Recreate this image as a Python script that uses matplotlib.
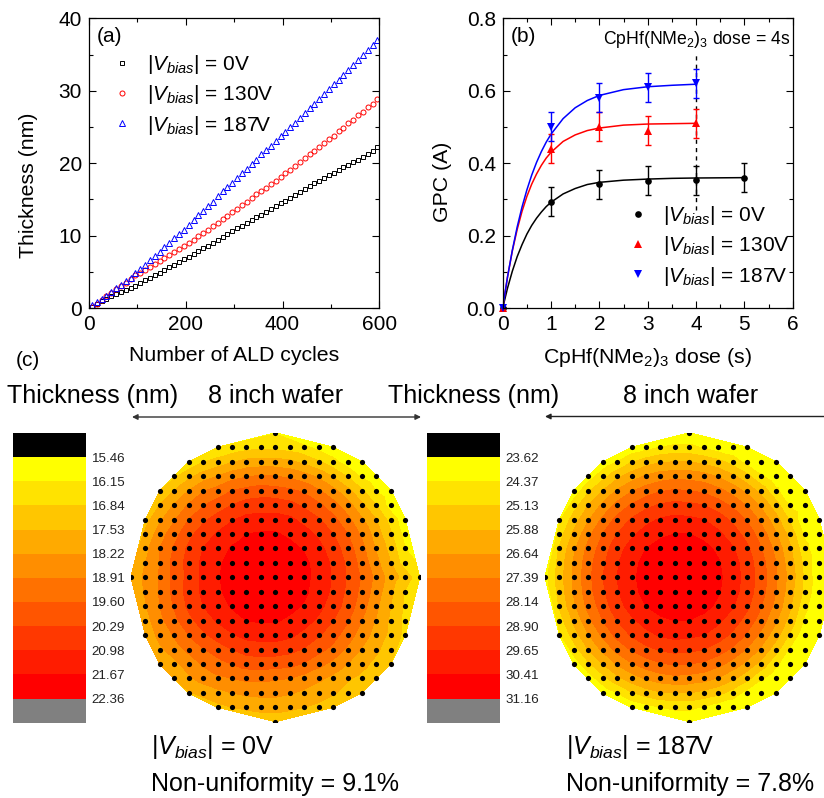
import numpy as np
import matplotlib
matplotlib.use('Agg')
import matplotlib.pyplot as plt
from matplotlib.colors import ListedColormap, BoundaryNorm
from matplotlib.patches import FancyArrowPatch
from matplotlib.ticker import MultipleLocator

plt.rcParams['font.family'] = ['Liberation Sans', 'DejaVu Sans']
plt.rcParams['mathtext.fontset'] = 'custom'
plt.rcParams['mathtext.rm'] = 'Liberation Sans'
plt.rcParams['mathtext.it'] = 'Liberation Sans:italic'
plt.rcParams['mathtext.bf'] = 'Liberation Sans:bold'

W, H = 824, 798

############################################
# panel (a), thickness against cycles
cycles = np.arange(6, 600, 10)
thick_0v = [.2,.6,.9,1.3,1.6,1.9,2.2,2.5,2.8,3.1,3.4,3.8,4.1,4.5,4.9,5.2,5.6,6.0,6.4,6.7,
            7.1,7.5,7.9,8.3,8.6,9.0,9.4,9.8,10.2,10.6,11.0,11.3,11.7,12.1,12.5,12.9,13.3,13.7,14.1,14.5,
            14.8,15.2,15.6,16.0,16.4,16.8,17.2,17.6,17.9,18.3,18.7,19.1,19.5,19.8,20.2,20.5,20.9,21.3,21.7,22.2]
thick_130v = [.2,.6,1.1,1.6,2.1,2.6,3.0,3.5,4.0,4.5,4.9,5.3,5.7,6.1,6.5,6.9,7.3,7.7,8.1,8.5,
              9.0,9.4,9.9,10.4,10.8,11.3,11.8,12.3,12.7,13.2,13.7,14.2,14.7,15.2,15.7,16.1,16.6,17.1,17.6,18.1,
              18.6,19.1,19.6,20.1,20.7,21.2,21.7,22.2,22.8,23.3,23.8,24.4,24.9,25.5,26.0,26.6,27.1,27.7,28.2,28.8]
thick_187v = [.4,.8,1.2,1.7,2.2,2.7,3.2,3.7,4.2,4.8,5.4,6.0,6.6,7.2,7.8,8.4,9.0,9.6,10.2,10.8,
              11.5,12.1,12.8,13.4,14.1,14.7,15.4,16.1,16.7,17.3,18.0,18.6,19.2,19.9,20.5,21.2,21.8,22.4,23.1,23.7,
              24.3,25.0,25.6,26.3,26.9,27.6,28.2,28.9,29.5,30.2,30.9,31.5,32.2,32.9,33.5,34.2,34.9,35.6,36.3,37.0]

# panel (b), GPC against dose
dose_0v = [0, 1, 2, 3, 4, 5]
gpc_0v = [0, .293, .342, .352, .353, .36]
err_0v = [0, .04, .04, .04, .04, .04]
dose_130v = [0, 1, 2, 3, 4]
gpc_130v = [0, .44, .50, .49, .51]
err_130v = [0, .04, .04, .04, .04]
dose_187v = [0, 1, 2, 3, 4]
gpc_187v = [0, .50, .58, .61, .62]
err_187v = [0, .04, .04, .04, .04]

fit_x = [0,.1,.2,.3,.4,.5,.6,.7,.8,.9,1,1.25,1.5,1.75,2,2.5,3,3.5,4,5]
fit_0v = [0,.055,.102,.142,.175,.204,.228,.248,.265,.280,.292,.315,.330,.341,.347,.353,.356,.358,.359,.360]
fit_x_short = fit_x[:-1]
fit_130v = [0,.086,.158,.217,.267,.308,.342,.370,.394,.414,.430,.460,.478,.490,.497,.505,.508,.509,.510]
fit_187v = [0,.086,.160,.224,.279,.326,.367,.402,.432,.458,.480,.523,.553,.573,.587,.603,.611,.615,.618]

dash_x = [4, 4]
dash_y = [.27, .70]

# panel (c), colour scale ticks and colours
ticks_0v = ['15.46','16.15','16.84','17.53','18.22','18.91','19.60','20.29','20.98','21.67','22.36']
ticks_187v = ['23.62','24.37','25.13','25.88','26.64','27.39','28.14','28.90','29.65','30.41','31.16']
band_colors = ['#FFFF00','#FFE300','#FFC600','#FFAA00','#FF8E00','#FF7100','#FF5500','#FF3800','#FF1C00','#FF0000']
under_color = '#000000'
over_color = '#808080'

# wafer maps, position on the colour scale (0 = first tick, 10 = last tick)
# one list per grid row, top to bottom, each centred on the wafer axis
wafer_0v = [
    [.9],
    [1.0,1.3,1.6,1.8,1.7,1.5,1.2,.7,.3],
    [1.2,1.9,2.4,2.9,3.3,3.4,3.4,3.2,2.7,2.1,1.3,.5,.2],
    [1.8,2.7,3.5,4.0,4.6,4.9,5.1,5.0,4.8,4.4,3.8,2.9,1.9,.8,.2],
    [2.0,3.0,4.0,4.9,5.4,6.0,6.3,6.5,6.4,6.2,5.8,5.1,4.3,3.3,2.1,.9,.2],
    [3.0,4.1,5.1,5.9,6.5,7.0,7.4,7.5,7.5,7.3,6.8,6.2,5.4,4.4,3.2,2.0,.5],
    [2.6,3.8,4.9,6.0,6.8,7.4,7.9,8.3,8.4,8.4,8.2,7.7,7.1,6.3,5.3,4.1,3.0,1.6,.3],
    [3.2,4.5,5.6,6.7,7.5,8.1,8.6,9.0,9.1,9.1,8.8,8.4,7.8,7.0,6.0,4.8,3.5,2.1,.6],
    [3.7,5.0,6.1,7.2,8.0,8.5,9.1,9.4,9.6,9.6,9.3,8.9,8.3,7.5,6.5,5.3,3.9,2.6,1.0],
    [4.0,5.0,6.3,7.4,8.2,8.8,9.4,9.7,9.9,9.9,9.6,9.2,8.6,7.8,6.8,5.6,4.3,3.0,1.4],
    [3.3,4.2,5.1,6.3,7.3,8.2,8.9,9.5,9.8,10.0,10.0,9.7,9.3,8.6,7.9,6.9,5.9,4.7,3.5,2.6,1.3],
    [4.1,5.1,6.3,7.4,8.2,8.8,9.4,9.7,9.9,9.9,9.6,9.2,8.6,7.8,6.8,5.7,4.5,3.2,1.9],
    [3.9,5.0,6.1,7.2,8.0,8.5,9.1,9.4,9.6,9.6,9.3,8.9,8.3,7.5,6.6,5.4,4.2,3.0,1.8],
    [3.6,4.7,5.7,6.7,7.5,8.1,8.6,9.0,9.1,9.1,8.8,8.4,7.8,7.0,6.1,5.0,3.9,2.8,1.7],
    [3.3,4.3,5.1,6.0,6.8,7.4,7.9,8.3,8.4,8.4,8.2,7.7,7.1,6.4,5.5,4.5,3.6,2.7,1.7],
    [3.8,4.5,5.2,5.9,6.5,7.0,7.4,7.5,7.5,7.3,6.9,6.3,5.7,4.8,3.9,3.2,2.4],
    [3.0,3.7,4.5,5.1,5.6,6.0,6.4,6.5,6.4,6.3,5.9,5.3,4.7,4.0,3.3,2.7,2.0],
    [3.0,3.8,4.4,4.8,5.0,5.2,5.2,5.1,5.0,4.6,4.2,3.7,3.1,2.7,2.3],
    [2.9,3.3,3.7,4.0,4.2,4.3,4.3,4.1,3.8,3.4,3.1,2.7,2.1],
    [2.7,3.0,3.2,3.3,3.3,3.2,3.0,2.8,2.5],
    [2.5],
]

wafer_187v = [
    [.3],
    [.2,.6,1.0,1.2,1.2,.9,.4,.2,.2],
    [.2,1.0,1.9,2.5,2.9,3.0,3.0,2.7,2.3,1.6,.6,.2,.2],
    [.4,1.6,2.7,3.5,4.1,4.5,4.7,4.6,4.4,3.9,3.2,2.3,1.1,.2,.2],
    [.3,1.8,3.0,4.1,4.9,5.5,5.9,6.1,6.0,5.8,5.3,4.6,3.7,2.6,1.2,.2,.2],
    [1.5,3.0,4.2,5.3,6.1,6.7,7.1,7.3,7.2,7.0,6.5,5.8,4.9,3.8,2.4,.8,.2],
    [.8,2.5,3.9,5.2,6.3,7.1,7.7,8.1,8.3,8.2,8.0,7.5,6.8,5.9,4.7,3.4,1.8,.2,.2],
    [1.5,3.2,4.7,6.0,7.0,7.8,8.4,8.8,9.0,9.0,8.7,8.2,7.5,6.6,5.5,4.1,2.6,.8,.2],
    [2.1,3.8,5.3,6.5,7.6,8.4,9.0,9.4,9.6,9.5,9.3,8.8,8.1,7.2,6.0,4.7,3.1,1.3,.2],
    [2.4,4.1,5.6,6.8,7.9,8.7,9.3,9.7,9.9,9.8,9.6,9.1,8.4,7.5,6.4,5.0,3.4,1.7,.2],
    [.6,2.5,4.2,5.7,7.0,8.0,8.8,9.4,9.8,10.0,10.0,9.7,9.2,8.5,7.6,6.5,5.1,3.6,1.8,.2,.2],
    [2.4,4.1,5.6,6.8,7.9,8.7,9.3,9.7,9.9,9.8,9.6,9.1,8.4,7.5,6.4,5.0,3.4,1.7,.2],
    [2.1,3.8,5.3,6.5,7.6,8.4,9.0,9.4,9.6,9.5,9.3,8.8,8.1,7.2,6.0,4.7,3.1,1.3,.2],
    [1.5,3.2,4.7,6.0,7.0,7.8,8.4,8.8,9.0,9.0,8.7,8.2,7.5,6.6,5.5,4.1,2.6,.8,.2],
    [.8,2.5,3.9,5.2,6.3,7.1,7.7,8.1,8.3,8.2,8.0,7.5,6.8,5.9,4.7,3.4,1.8,.2,.2],
    [1.5,3.0,4.2,5.3,6.1,6.7,7.1,7.3,7.2,7.0,6.5,5.8,4.9,3.8,2.4,.8,.2],
    [.3,1.8,3.0,4.1,4.9,5.5,5.9,6.1,6.0,5.8,5.3,4.6,3.7,2.6,1.2,.2,.2],
    [.4,1.6,2.7,3.5,4.1,4.5,4.7,4.6,4.4,3.9,3.2,2.3,1.1,.2,.2],
    [.2,1.0,1.9,2.5,2.9,3.0,3.0,2.7,2.3,1.6,.6,.2,.2],
    [.2,.6,1.0,1.2,1.2,.9,.4,.2,.2],
    [.3],
]

############################################
def axes_px(left, top, right, bottom):
    return fig.add_axes([left / W, 1 - bottom / H, (right - left) / W, (bottom - top) / H])

def text_px(x, y, s, **kw):
    kw.setdefault('va', 'center')
    fig.text(x / W, 1 - y / H, s, **kw)

def style_axes(ax):
    ax.tick_params(which='both', direction='in', top=True, right=True, labelsize=15, pad=5, width=.8)
    ax.tick_params(which='major', length=5)
    ax.tick_params(which='minor', length=3)
    for sp in ax.spines.values():
        sp.set_linewidth(.9)

def draw_scale(left, right, labels):
    ax = axes_px(left, 433, right, 722.7)
    colors = [under_color] + band_colors + [over_color]
    ax.barh(np.arange(12) + .5, 1, height=1, color=colors)
    ax.set_xlim(0, 1)
    ax.set_ylim(12, 0)
    ax.yaxis.tick_right()
    ax.set_yticks(np.arange(1, 12))
    ax.set_yticklabels(labels)
    ax.tick_params(axis='y', length=0, pad=4, labelsize=9.6, labelcolor='#222222')
    ax.set_xticks([])
    for sp in ax.spines.values():
        sp.set_visible(False)

def draw_wafer(cx, rows):
    ax = axes_px(cx - 144.4, 432.8, cx + 144.4, 721.8)
    xs, ys, zs = [], [], []
    for i, row in enumerate(rows):
        half = len(row) // 2
        for j, val in enumerate(row):
            xs.append(j - half)
            ys.append(i - 10)
            zs.append(val)
    cmap = ListedColormap(band_colors)
    cmap.set_under(under_color)
    cmap.set_over(over_color)
    levels = np.arange(0, 11)
    ax.tricontourf(xs, ys, zs, levels=levels, cmap=cmap, norm=BoundaryNorm(levels, 10), extend='both')
    ax.scatter(xs, ys, s=14, c='k', linewidths=0, zorder=3)
    ax.set_xlim(-10, 10)
    ax.set_ylim(10, -10)
    ax.axis('off')

fig = plt.figure(figsize=(W / 100, H / 100), dpi=100)

# (a)
ax1 = axes_px(89, 18.3, 379.3, 308)
ax1.plot(cycles, thick_0v, 's', mfc='none', mec='k', ms=3.2, mew=.7, label=r'$|V_{bias}|$ = 0V')
ax1.plot(cycles, thick_130v, 'o', mfc='none', mec='r', ms=3.6, mew=.7, label=r'$|V_{bias}|$ = 130V')
ax1.plot(cycles, thick_187v, '^', mfc='none', mec='b', ms=4.6, mew=.7, label=r'$|V_{bias}|$ = 187V')
ax1.set_xlim(0, 600)
ax1.set_ylim(0, 40)
ax1.xaxis.set_major_locator(MultipleLocator(200))
ax1.xaxis.set_minor_locator(MultipleLocator(100))
ax1.yaxis.set_major_locator(MultipleLocator(10))
ax1.yaxis.set_minor_locator(MultipleLocator(5))
style_axes(ax1)
ax1.set_xlabel('Number of ALD cycles', fontsize=15.3)
ax1.set_ylabel('Thickness (nm)', fontsize=15.3)
ax1.xaxis.set_label_coords(.5, -.13)
ax1.yaxis.set_label_coords(-.175, .425)
ax1.text(97, 36, '(a)', fontsize=15, va='center', transform=None) if False else None
ax1.legend(loc='upper left', bbox_to_anchor=((111.6 - 89) / 290.3, 1 - (53 - 18.3) / 289.7), frameon=False,
           fontsize=15, handlelength=1, handletextpad=.7, borderpad=0, borderaxespad=0, labelspacing=.35)

# (b)
ax2 = axes_px(502.7, 18.3, 792.7, 308)
ax2.plot(dash_x, dash_y, 'k--', lw=1, dashes=(3, 3))
ax2.plot(fit_x, fit_0v, 'k-', lw=1.1)
ax2.plot(fit_x_short, fit_130v, 'r-', lw=1.1)
ax2.plot(fit_x_short, fit_187v, 'b-', lw=1.1)
ax2.errorbar(dose_0v, gpc_0v, yerr=err_0v, fmt='none', ecolor='k', elinewidth=1, capsize=2.1, capthick=1)
ax2.errorbar(dose_130v, gpc_130v, yerr=err_130v, fmt='none', ecolor='r', elinewidth=1, capsize=2.1, capthick=1)
ax2.errorbar(dose_187v, gpc_187v, yerr=err_187v, fmt='none', ecolor='b', elinewidth=1, capsize=2.1, capthick=1)
ax2.plot(dose_0v, gpc_0v, 'ko', ms=4.8, mew=0, label=r'$|V_{bias}|$ = 0V')
ax2.plot(dose_130v, gpc_130v, 'r^', ms=5.6, mew=0, label=r'$|V_{bias}|$ = 130V')
ax2.plot(dose_187v, gpc_187v, 'bv', ms=5.6, mew=0, label=r'$|V_{bias}|$ = 187V')
for line in ax2.get_lines()[-3:]:
    line.set_clip_on(False)
ax2.set_xlim(0, 6)
ax2.set_ylim(0, .8)
ax2.xaxis.set_major_locator(MultipleLocator(1))
ax2.xaxis.set_minor_locator(MultipleLocator(.5))
ax2.yaxis.set_major_locator(MultipleLocator(.2))
ax2.yaxis.set_minor_locator(MultipleLocator(.1))
style_axes(ax2)
ax2.set_xlabel(r'CpHf(NMe$_2$)$_3$ dose (s)', fontsize=15.3)
ax2.set_ylabel('GPC (A)', fontsize=15.3)
ax2.xaxis.set_label_coords(.5, -.13)
ax2.yaxis.set_label_coords(-.175, .435)
ax2.legend(loc='upper left', bbox_to_anchor=((627.6 - 502.7) / 290, 1 - (204 - 18.3) / 289.7), frameon=False,
           fontsize=15, handlelength=1, handletextpad=.7, borderpad=0, borderaxespad=0, labelspacing=.35)

# (c)
draw_scale(13, 86, ticks_0v)
draw_scale(427, 500, ticks_187v)
draw_wafer(275.3, wafer_0v)
draw_wafer(689.3, wafer_187v)

text_px(97, 36, '(a)', fontsize=15)
text_px(511, 36, '(b)', fontsize=15)
text_px(16, 360, '(c)', fontsize=15)
text_px(602.7, 39, r'CpHf(NMe$_2$)$_3$ dose = 4s', fontsize=12.7)

text_px(7, 396, 'Thickness (nm)', fontsize=18)
text_px(208, 396, '8 inch wafer', fontsize=18)
text_px(388, 396, 'Thickness (nm)', fontsize=18)
text_px(623, 396, '8 inch wafer', fontsize=18)

arrow1 = FancyArrowPatch((132 / W, 1 - 417 / H), (421 / W, 1 - 417 / H), transform=fig.transFigure,
                         arrowstyle='<|-|>', mutation_scale=8, lw=1, color='#333333', shrinkA=0, shrinkB=0)
arrow2 = FancyArrowPatch((545 / W, 1 - 416.5 / H), (824 / W, 1 - 416.5 / H), transform=fig.transFigure,
                         arrowstyle='<|-', mutation_scale=8, lw=1, color='#222222', shrinkA=0, shrinkB=0)
fig.add_artist(arrow1)
fig.add_artist(arrow2)

text_px(151, 747, r'$|V_{bias}|$ = 0V', fontsize=18)
text_px(151, 784, 'Non-uniformity = 9.1%', fontsize=18)
text_px(566, 747, r'$|V_{bias}|$ = 187V', fontsize=18)
text_px(566, 784, 'Non-uniformity = 7.8%', fontsize=18)

fig.savefig('out.png', dpi=100)
